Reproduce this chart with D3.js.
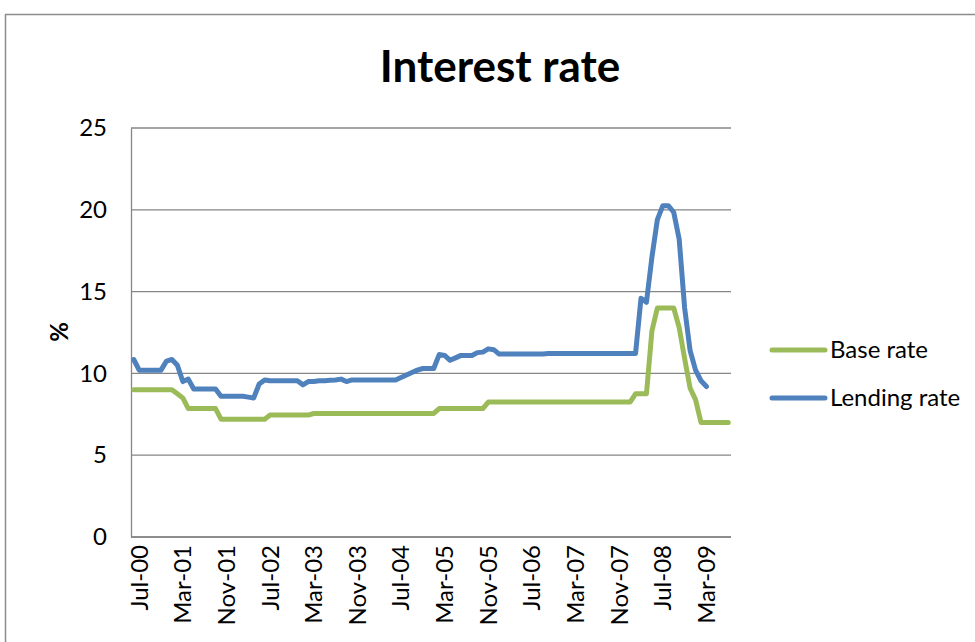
<!DOCTYPE html>
<html>
<head>
<meta charset="utf-8">
<script src="https://d3js.org/d3.v7.min.js"></script>
<style>
  html, body { margin: 0; padding: 0; background: #fff; }
  text { font-family: Lato, "Open Sans", sans-serif; fill: #000; }
</style>
</head>
<body>
<div id="chart"></div>
<script>
"use strict";

// Months on the category axis: Jul-00 .. Aug-09.
var firstMonth = new Date(2000, 6, 1);
var lastMonth = new Date(2009, 7, 1);
var tickLabels = ["Jul-00", "Mar-01", "Nov-01", "Jul-02", "Mar-03", "Nov-03", "Jul-04",
                  "Mar-05", "Nov-05", "Jul-06", "Mar-07", "Nov-07", "Jul-08", "Mar-09"];
var yTicks = [0, 5, 10, 15, 20, 25];

// Base rate, one value per month from Jul-00.
var baseRate = [
    9.0, 9.0, 9.0, 9.0, 9.0, 9.0, 9.0, 9.0, 8.75, 8.5,
    7.85, 7.85, 7.85, 7.85, 7.85, 7.85,
    7.2, 7.2, 7.2, 7.2, 7.2, 7.2, 7.2, 7.2, 7.2,
    7.45, 7.45, 7.45, 7.45, 7.45, 7.45, 7.45, 7.45,
    7.55, 7.55, 7.55, 7.55, 7.55, 7.55, 7.55, 7.55, 7.55, 7.55, 7.55, 7.55,
    7.55, 7.55, 7.55, 7.55, 7.55, 7.55, 7.55, 7.55, 7.55, 7.55, 7.55,
    7.85, 7.85, 7.85, 7.85, 7.85, 7.85, 7.85, 7.85, 7.85,
    8.25, 8.25, 8.25, 8.25, 8.25, 8.25, 8.25, 8.25, 8.25, 8.25,
    8.25, 8.25, 8.25, 8.25, 8.25, 8.25, 8.25, 8.25, 8.25, 8.25,
    8.25, 8.25, 8.25, 8.25, 8.25, 8.25, 8.25,
    8.75, 8.75, 8.75, 12.6, 14.0, 14.0, 14.0, 14.0,
    12.8, 10.9, 9.1, 8.4, 7.0, 7.0, 7.0, 7.0, 7.0, 7.0
];

// Lending rate, one value per month from Jul-00 (ends Apr-09).
var lendingRate = [
    10.85, 10.2, 10.2, 10.2, 10.2, 10.2, 10.75, 10.85, 10.5, 9.5, 9.65,
    9.05, 9.05, 9.05, 9.05, 9.05,
    8.6, 8.6, 8.6, 8.6, 8.6, 8.55, 8.5, 9.35, 9.6,
    9.55, 9.55, 9.55, 9.55, 9.55, 9.55,
    9.3, 9.5, 9.5, 9.55, 9.55, 9.58, 9.6, 9.65, 9.5,
    9.6, 9.6, 9.6, 9.6, 9.6, 9.6, 9.6, 9.6, 9.6,
    9.75, 9.9, 10.05, 10.2, 10.3, 10.3, 10.3,
    11.15, 11.1, 10.8, 10.95, 11.1, 11.1, 11.1, 11.27, 11.3, 11.5, 11.45,
    11.18, 11.18, 11.18, 11.18, 11.18, 11.18, 11.18, 11.18, 11.18,
    11.22, 11.22, 11.22, 11.22, 11.22, 11.22, 11.22, 11.22, 11.22,
    11.22, 11.22, 11.22, 11.22, 11.22, 11.22, 11.22, 11.22,
    14.6, 14.35, 17.1, 19.4, 20.25, 20.25, 19.85, 18.2, 14.0, 11.4, 10.2, 9.55, 9.2
];

var seriesNames = ["Base rate", "Lending rate"];
var seriesColors = ["#9bbb59", "#4f81bd"];

var width = 975, height = 642;
var margin = {top: 128, left: 131, bottom: 105, right: 244};
var chartWidth = width - margin.left - margin.right,
    chartHeight = height - margin.top - margin.bottom;

var fmt = d3.timeFormat("%b-%y");
var months = d3.timeMonth.range(firstMonth, d3.timeMonth.offset(lastMonth, 1)).map(fmt);

var svg = d3.select("#chart").append("svg")
    .attr("width", width)
    .attr("height", height);

// Chart border.
svg.append("rect")
    .attr("x", 5.5).attr("y", 14.5)
    .attr("width", 1000).attr("height", 700)
    .attr("fill", "none")
    .attr("stroke", "#8c8c8c")
    .attr("stroke-width", 1.5);

// Title.
svg.append("text")
    .attr("x", 500).attr("y", 82)
    .attr("text-anchor", "middle")
    .style("font-weight", "bold")
    .style("font-size", "44px")
    .text("Interest rate");

var g = svg.append("g")
    .attr("transform", "translate(" + [margin.left, margin.top] + ")");

var x = d3.scalePoint().domain(months).range([0, chartWidth]).padding(0.5);
var y = d3.scaleLinear().domain([0, 25]).range([chartHeight, 0]);

// Gridlines.
g.append("g").selectAll("line")
    .data(yTicks)
    .enter().append("line")
    .attr("x1", 0).attr("x2", chartWidth)
    .attr("y1", function (d) { return y(d); })
    .attr("y2", function (d) { return y(d); })
    .attr("stroke", "#868686")
    .attr("stroke-width", 1.3);

// Y axis.
var yAxis = g.append("g")
    .call(d3.axisLeft(y).tickValues(yTicks).tickSize(0).tickPadding(24));
yAxis.select(".domain").attr("stroke", "#868686").attr("stroke-width", 1.3);
yAxis.selectAll("text")
    .style("font-family", "Lato, sans-serif")
    .style("font-size", "24px")
    .attr("fill", "#000");

// X axis.
var xAxis = g.append("g")
    .attr("transform", "translate(0," + chartHeight + ")")
    .call(d3.axisBottom(x).tickValues(tickLabels).tickSize(0));
xAxis.select(".domain").attr("stroke", "#868686").attr("stroke-width", 1.3)
    .attr("d", "M0,0H" + chartWidth);
xAxis.selectAll("text")
    .style("font-family", "Lato, sans-serif")
    .style("font-size", "24px")
    .attr("fill", "#000")
    .attr("text-anchor", "end")
    .attr("dy", "0.35em")
    .attr("y", 0)
    .attr("transform", "translate(5,8) rotate(-90)");

// Y axis title.
svg.append("text")
    .attr("transform", "translate(60,332) rotate(-90)")
    .attr("text-anchor", "middle")
    .attr("dy", "0.35em")
    .style("font-weight", "bold")
    .style("font-size", "24px")
    .text("%");

// Lines.
var line = d3.line()
    .x(function (d, i) { return x(months[i]); })
    .y(function (d) { return y(d); });

[baseRate, lendingRate].forEach(function (values, k) {
    g.append("path")
        .datum(values)
        .attr("d", line)
        .attr("fill", "none")
        .attr("stroke", seriesColors[k])
        .attr("stroke-width", 5)
        .attr("stroke-linejoin", "round")
        .attr("stroke-linecap", "round");
});

// Legend.
var legend = svg.append("g").selectAll("g")
    .data(seriesNames)
    .enter().append("g")
    .attr("transform", function (d, i) { return "translate(770," + (350 + i * 48) + ")"; });
legend.append("line")
    .attr("x1", 2).attr("x2", 55)
    .attr("stroke", function (d, i) { return seriesColors[i]; })
    .attr("stroke-width", 5)
    .attr("stroke-linecap", "round");
legend.append("text")
    .attr("x", 60)
    .attr("dy", "0.35em")
    .style("font-size", "24px")
    .text(function (d) { return d; });
</script>
</body>
</html>
